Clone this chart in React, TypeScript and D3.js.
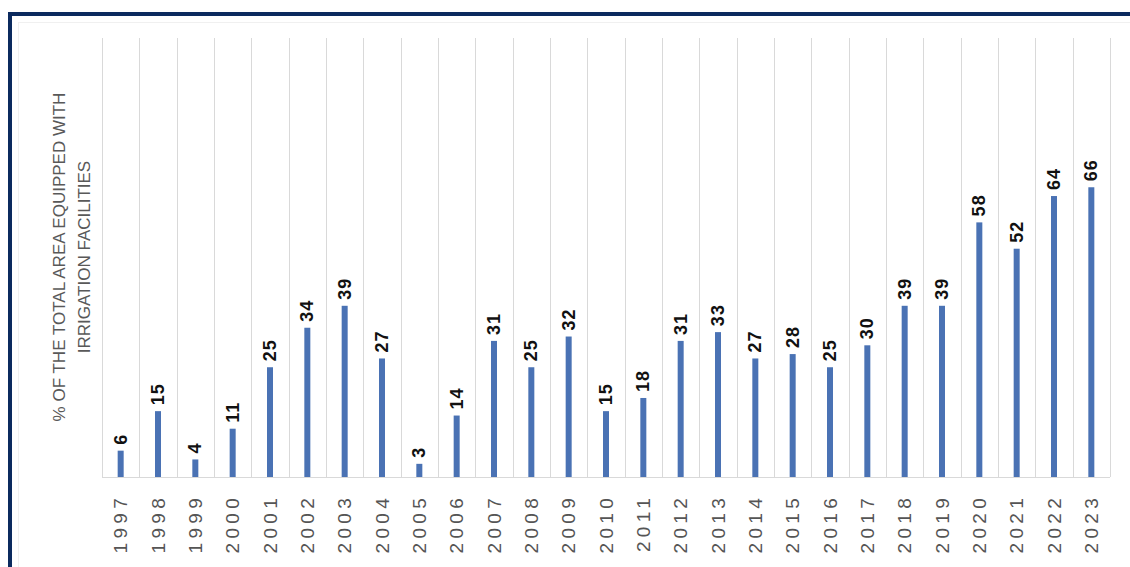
import React from "react";
import * as d3 from "d3";

const years: string[] = [
  "1997","1998","1999","2000","2001","2002","2003","2004","2005","2006",
  "2007","2008","2009","2010","2011","2012","2013","2014","2015","2016",
  "2017","2018","2019","2020","2021","2022","2023",
];
const values: number[] = [
  6, 15, 4, 11, 25, 34, 39, 27, 3, 14,
  31, 25, 32, 15, 18, 31, 33, 27, 28, 25,
  30, 39, 39, 58, 52, 64, 66,
];
const titleLines: string[] = ["% OF THE TOTAL AREA EQUIPPED WITH", "IRRIGATION FACILITIES"];

const W = 1130;
const H = 567;
const plotLeft = 102;
const plotRight = 1110;
const plotTop = 38;
const plotBottom = 477;

export default function App() {
  const x = d3.scaleBand<string>().domain(years).range([plotLeft, plotRight]).padding(0);
  const y = d3.scaleLinear().domain([0, 100]).range([plotBottom, plotTop]);
  const barW = 6;
  const font = "'Liberation Sans', Arial, sans-serif";
  const bounds = [...years.map((yr) => x(yr) as number), plotRight];

  return (
    <div style={{ position: "absolute", left: 0, top: 0, width: W, height: H, overflow: "hidden", background: "#fff" }}>
      <svg width={W} height={H} style={{ display: "block" }}>
        <rect x={0} y={0} width={W} height={H} fill="#fff" />
        {/* outer navy frame */}
        <rect x={10} y={14} width={W + 20} height={H + 20} fill="none" stroke="#0b2a5e" strokeWidth={4} />
        {/* faint inner chart frame */}
        <rect x={18.5} y={22.5} width={W} height={H} fill="none" stroke="#f0f0f0" strokeWidth={1} />
        {/* vertical gridlines */}
        {bounds.map((bx, i) => (
          <line key={"g" + i} x1={Math.round(bx) + 0.5} x2={Math.round(bx) + 0.5} y1={plotTop} y2={plotBottom} stroke="#d9d9d9" strokeWidth={1} />
        ))}
        {/* axis line */}
        <line x1={plotLeft} x2={plotRight} y1={plotBottom + 0.5} y2={plotBottom + 0.5} stroke="#d9d9d9" strokeWidth={1} />
        {/* bars */}
        {years.map((yr, i) => {
          const cx = (x(yr) as number) + x.bandwidth() / 2;
          return (
            <rect key={"b" + yr} x={cx - barW / 2} y={y(values[i])} width={barW} height={plotBottom - y(values[i])} fill="#4a72b4" />
          );
        })}
        {/* value labels */}
        {years.map((yr, i) => {
          const cx = (x(yr) as number) + x.bandwidth() / 2;
          const ty = y(values[i]) - 6;
          return (
            <text key={"v" + yr} transform={`translate(${cx},${ty}) rotate(-90)`} textAnchor="start" dominantBaseline="central"
              fontFamily={font} fontWeight="bold" fontSize={18} letterSpacing={1} fill="#111">
              {values[i]}
            </text>
          );
        })}
        {/* x labels */}
        {years.map((yr) => {
          const cx = (x(yr) as number) + x.bandwidth() / 2;
          return (
            <text key={"x" + yr} transform={`translate(${cx},${494}) rotate(-90)`} textAnchor="end" dominantBaseline="central"
              fontFamily={font} fontSize={19} letterSpacing={4.3} fill="#555">
              {yr}
            </text>
          );
        })}
        {/* y title */}
        {titleLines.map((t, i) => (
          <text key={"t" + i} transform={`translate(${59 + i * 25},${257}) rotate(-90)`} textAnchor="middle" dominantBaseline="central"
            fontFamily={font} fontSize={17} fill="#595959">
            {t}
          </text>
        ))}
      </svg>
    </div>
  );
}
